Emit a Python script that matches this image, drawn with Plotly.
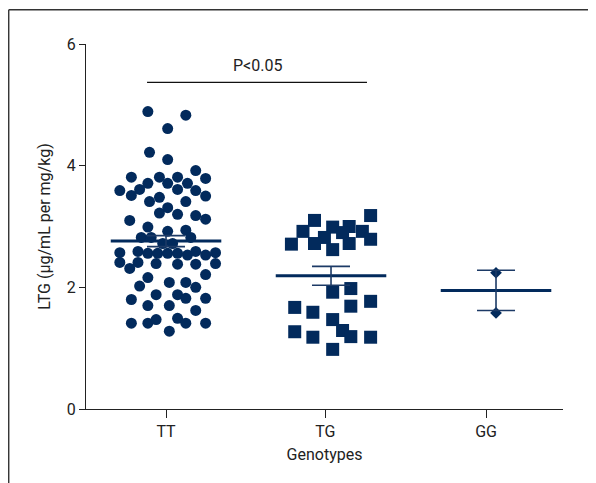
import plotly.graph_objects as go

# ---------------- data ----------------
categories = ["TT", "TG", "GG"]
category_ticks = [0.0, 0.965, 1.94]   # tick positions of the category labels
group_centers = [0.0, 1.0, 2.0]

tt_values = [4.89, 4.83, 4.61, 4.22, 4.10, 3.92, 3.81, 3.81, 3.81, 3.79, 3.71, 3.71, 3.71,
             3.59, 3.61, 3.61, 3.59, 3.51, 3.48, 3.50, 3.41, 3.41, 3.31, 3.22, 3.20, 3.18,
             3.10, 3.12, 2.99, 2.92, 2.94,
             2.82, 2.82, 2.82, 2.72, 2.72, 2.57, 2.59, 2.56, 2.56, 2.56, 2.56, 2.53, 2.59,
             2.53, 2.57, 2.41, 2.41, 2.39, 2.38, 2.38, 2.39, 2.31,
             2.16, 2.21, 2.02, 2.08, 2.08, 2.00, 1.80, 1.88, 1.88, 1.82, 1.82, 1.70, 1.70,
             1.62, 1.41, 1.41, 1.47, 1.49, 1.41, 1.41, 1.28]
tt_offsets = [-0.11, 0.12, 0.01, -0.10, 0.01, 0.18, -0.21, -0.04, 0.07, 0.24, -0.11, 0.01, 0.13,
              -0.28, -0.16, 0.07, 0.18, -0.21, -0.04, 0.24, -0.10, 0.12, 0.01, -0.04, 0.07, 0.18,
              -0.22, 0.24, -0.11, 0.01, 0.12,
              -0.15, -0.09, 0.15, -0.02, 0.04, -0.28, -0.17, -0.11, -0.05, 0.01, 0.07, 0.13, 0.18,
              0.24, 0.30, -0.28, -0.17, -0.06, 0.07, 0.18, 0.30, -0.22,
              -0.11, 0.24, -0.16, 0.02, 0.12, 0.18, -0.21, -0.06, 0.07, 0.12, 0.24, -0.11, 0.02,
              0.18, -0.21, -0.11, -0.06, 0.07, 0.12, 0.24, 0.02]

tg_values = [3.10, 3.18, 2.92, 2.99, 3.00, 2.92, 2.82, 2.90, 2.71, 2.72, 2.62, 2.72, 2.79,
             1.92, 1.98, 1.67, 1.59, 1.69, 1.77, 1.47, 1.27, 1.18, 1.29, 1.19, 1.18, 0.98]
tg_offsets = [-0.10, 0.24, -0.17, 0.01, 0.11, 0.19, -0.04, 0.07, -0.24, -0.10, 0.01, 0.11, 0.24,
              0.01, 0.12, -0.22, -0.11, 0.12, 0.24, 0.01, -0.22, -0.11, 0.07, 0.12, 0.24, 0.01]

gg_values = [2.24, 1.58]
gg_offsets = [0.0, 0.0]

group_means = [2.76, 2.19, 1.95]
group_sems = [0.09, 0.155, 0.33]

sig_label = "P<0.05"
sig_span = [-0.115, 1.218]
sig_level = 5.37

NAVY = "#022a5c"
AXIS = "#222222"
FONT = "Roboto, Liberation Sans, sans-serif"

fig = go.Figure()

groups = [
    (tt_values, tt_offsets, "circle", 11),
    (tg_values, tg_offsets, "square", 13),
    (gg_values, gg_offsets, "diamond", 9),
]
for i, (vals, offs, sym, size) in enumerate(groups):
    fig.add_trace(go.Scatter(
        x=[group_centers[i] + o for o in offs], y=vals, mode="markers",
        marker=dict(symbol=sym, size=size, color=NAVY, line=dict(width=0)),
        showlegend=False, hoverinfo="skip"))

# mean lines
half = 0.335
for i, m in enumerate(group_means):
    fig.add_trace(go.Scatter(
        x=[group_centers[i] - half, group_centers[i] + half], y=[m, m], mode="lines",
        line=dict(color=NAVY, width=3), showlegend=False, hoverinfo="skip"))

# SEM error bars
fig.add_trace(go.Scatter(
    x=group_centers, y=group_means, mode="markers",
    marker=dict(size=1, color="rgba(0,0,0,0)"),
    error_y=dict(type="data", array=group_sems, visible=True, color="#1c3a66",
                 thickness=1.6, width=19),
    showlegend=False, hoverinfo="skip"))

fig.update_layout(
    width=588, height=475,
    margin=dict(l=78, r=33, t=36, b=74),
    paper_bgcolor="white", plot_bgcolor="white",
    font=dict(family=FONT, size=16, color=AXIS),
    xaxis=dict(range=[-0.485, 2.406], tickvals=category_ticks, ticktext=categories,
               ticks="outside", ticklen=8, tickwidth=1.3, tickcolor=AXIS,
               showline=True, linecolor=AXIS, linewidth=1.3, showgrid=False, zeroline=False,
               title=dict(text="Genotypes", standoff=8, font=dict(size=16))),
    yaxis=dict(range=[0, 6], tickvals=[0, 2, 4, 6], ticks="outside", ticklen=6,
               tickwidth=1.3, tickcolor=AXIS,
               showline=True, linecolor=AXIS, linewidth=1.3, showgrid=False, zeroline=False,
               title=dict(text="LTG (μg/mL per mg/kg)", standoff=12, font=dict(size=16))),
    shapes=[
        dict(type="line", xref="x", yref="y", x0=sig_span[0], x1=sig_span[1],
             y0=sig_level, y1=sig_level, line=dict(color="#111111", width=1.3)),
        dict(type="line", xref="paper", yref="paper", x0=-0.162, x1=1.2, y0=1.094, y1=1.094,
             line=dict(color="#333333", width=1.4)),
        dict(type="line", xref="paper", yref="paper", x0=-0.162, x1=-0.162, y0=1.094, y1=-0.4,
             line=dict(color="#333333", width=1.4)),
    ],
    annotations=[
        dict(x=(sig_span[0] + sig_span[1]) / 2, y=sig_level, xref="x", yref="y",
             text=sig_label, showarrow=False, yanchor="bottom", yshift=5,
             font=dict(size=16, color=AXIS)),
    ],
)

fig.write_html("out.html")
